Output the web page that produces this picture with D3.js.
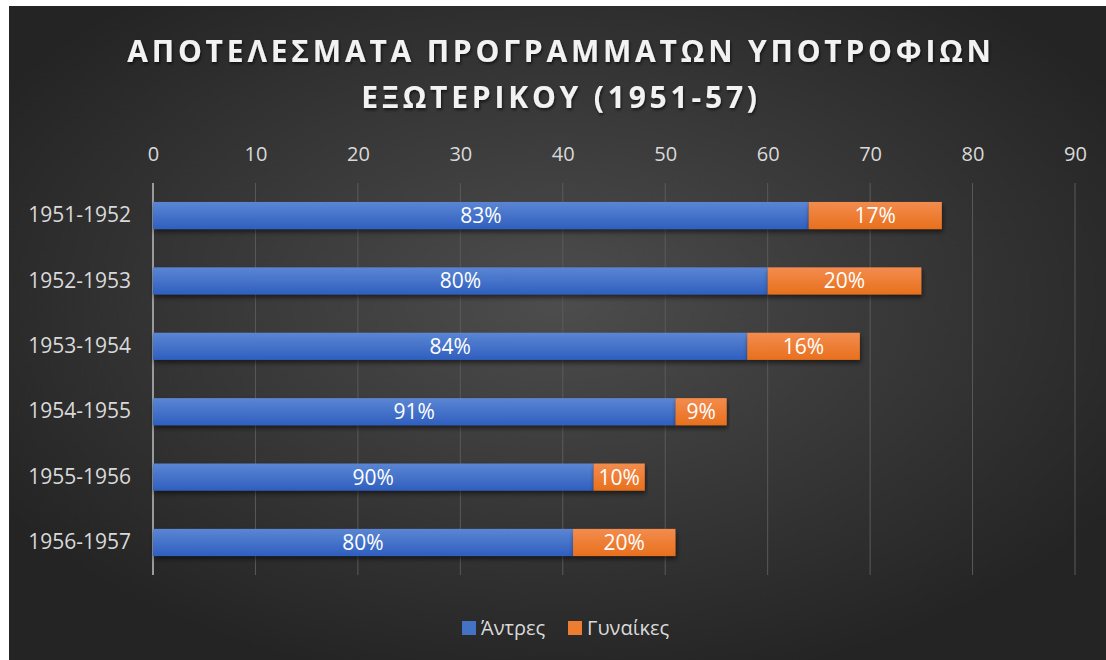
<!DOCTYPE html>
<html>
<head>
<meta charset="utf-8">
<script src="https://cdn.jsdelivr.net/npm/d3@7"></script>
<style>
  html, body { margin: 0; padding: 0; background: #fff; }
  svg { display: block; }
</style>
</head>
<body>
<svg id="chart" width="1106" height="660"></svg>
<script>
// data
const periods = ['1951-1952', '1952-1953', '1953-1954', '1954-1955', '1955-1956', '1956-1957'];
const men = [64, 60, 58, 51, 43, 41];
const women = [13, 15, 11, 5, 5, 10];
const menPct = ['83%', '80%', '84%', '91%', '90%', '80%'];
const womenPct = ['17%', '20%', '16%', '9%', '10%', '20%'];
const xTicks = [0, 10, 20, 30, 40, 50, 60, 70, 80, 90];
const seriesNames = ['Άντρες', 'Γυναίκες'];
const titleLines = ['ΑΠΟΤΕΛΕΣΜΑΤΑ ΠΡΟΓΡΑΜΜΑΤΩΝ ΥΠΟΤΡΟΦΙΩΝ', 'ΕΞΩΤΕΡΙΚΟΥ (1951-57)'];

const colors = { men: '#4472C4', women: '#ED7D31' };
const font = "'Open Sans', 'Noto Sans', sans-serif";

const svg = d3.select('#chart');
const defs = svg.append('defs');

const bg = defs.append('radialGradient').attr('id', 'bg')
  .attr('cx', '50%').attr('cy', '45%').attr('r', '60%');
bg.append('stop').attr('offset', '0%').attr('stop-color', '#4d4d4d');
bg.append('stop').attr('offset', '100%').attr('stop-color', '#242424');

function barGrad(id, top, bottom) {
  const g = defs.append('linearGradient').attr('id', id)
    .attr('x1', 0).attr('y1', 0).attr('x2', 0).attr('y2', 1);
  g.append('stop').attr('offset', '0%').attr('stop-color', top);
  g.append('stop').attr('offset', '100%').attr('stop-color', bottom);
}
barGrad('gMen', '#5b86d4', '#2f5fbf');
barGrad('gWomen', '#f38c4e', '#e8701d');

const shadow = defs.append('filter').attr('id', 'shadow')
  .attr('x', '-5%').attr('y', '-30%').attr('width', '110%').attr('height', '190%');
shadow.append('feDropShadow').attr('dx', 1).attr('dy', 3).attr('stdDeviation', 2.5)
  .attr('flood-color', '#000').attr('flood-opacity', 0.55);

const tShadow = defs.append('filter').attr('id', 'tshadow')
  .attr('x', '-5%').attr('y', '-30%').attr('width', '110%').attr('height', '170%');
tShadow.append('feDropShadow').attr('dx', 1).attr('dy', 2).attr('stdDeviation', 1.5)
  .attr('flood-color', '#000').attr('flood-opacity', 0.6);

svg.append('rect').attr('x', 9).attr('y', 6).attr('width', 1097).attr('height', 654)
  .attr('fill', 'url(#bg)');

// title
svg.append('g').selectAll('text').data(titleLines).join('text')
  .attr('x', 561)
  .attr('y', (d, i) => 62 + i * 46)
  .attr('text-anchor', 'middle')
  .attr('fill', '#f2f2f2')
  .attr('font-family', font)
  .attr('font-weight', 700)
  .attr('font-size', 30)
  .attr('letter-spacing', 3.8)
  .attr('filter', 'url(#tshadow)')
  .text(d => d);

const x = d3.scaleLinear().domain([0, 90]).range([153, 1075]);
const y = d3.scaleBand().domain(periods).range([183, 575]).paddingInner(0.585).paddingOuter(0.29);

// gridlines
svg.append('g').selectAll('line').data(xTicks.slice(1)).join('line')
  .attr('x1', d => x(d)).attr('x2', d => x(d))
  .attr('y1', 183).attr('y2', 575)
  .attr('stroke', '#5a5a5a').attr('stroke-width', 1);

// top axis
const xAxis = svg.append('g').attr('transform', 'translate(0,166)')
  .call(d3.axisTop(x).tickValues(xTicks).tickSize(0).tickPadding(0));
xAxis.select('.domain').remove();
xAxis.selectAll('text')
  .attr('fill', '#d9d9d9').attr('font-family', font).attr('font-size', 20)
  .attr('dy', '-0.25em');

// category axis
const yAxis = svg.append('g').attr('transform', `translate(${x(0)},0)`)
  .call(d3.axisLeft(y).tickSize(0).tickPadding(22));
yAxis.select('.domain').remove();
yAxis.selectAll('text')
  .attr('fill', '#d9d9d9').attr('font-family', font).attr('font-size', 21);

svg.append('line')
  .attr('x1', x(0)).attr('x2', x(0)).attr('y1', 183).attr('y2', 575)
  .attr('stroke', '#9a9a9a').attr('stroke-width', 2);

// stacked bars
const rows = periods.map((p, i) => ({ p, men: men[i], women: women[i] }));
const stacked = d3.stack().keys(['men', 'women'])(rows);
const pctLabels = { men: menPct, women: womenPct };

const layers = svg.append('g').selectAll('g').data(stacked).join('g')
  .attr('fill', d => d.key === 'men' ? 'url(#gMen)' : 'url(#gWomen)');

layers.selectAll('rect').data(d => d).join('rect')
  .attr('x', d => x(d[0]))
  .attr('y', d => y(d.data.p))
  .attr('width', d => x(d[1]) - x(d[0]))
  .attr('height', y.bandwidth())
  .attr('filter', 'url(#shadow)');

layers.selectAll('text').data(d => d.map((v, i) => ({ v, label: pctLabels[d.key][i] }))).join('text')
  .attr('x', d => (x(d.v[0]) + x(d.v[1])) / 2)
  .attr('y', d => y(d.v.data.p) + y.bandwidth() / 2)
  .attr('dy', '0.36em')
  .attr('text-anchor', 'middle')
  .attr('fill', '#ffffff')
  .attr('font-family', font)
  .attr('font-size', 21)
  .text(d => d.label);

// legend
const legend = svg.append('g').attr('transform', 'translate(462,628)');
const legendX = [0, 106];
const legendItems = legend.selectAll('g').data(seriesNames).join('g')
  .attr('transform', (d, i) => `translate(${legendX[i]},0)`);
legendItems.append('rect')
  .attr('x', 0).attr('y', -7).attr('width', 14).attr('height', 14)
  .attr('fill', (d, i) => i === 0 ? colors.men : colors.women);
legendItems.append('text')
  .attr('x', 19).attr('dy', '0.36em')
  .attr('fill', '#d9d9d9').attr('font-family', font).attr('font-size', 20)
  .text(d => d);
</script>
</body>
</html>
